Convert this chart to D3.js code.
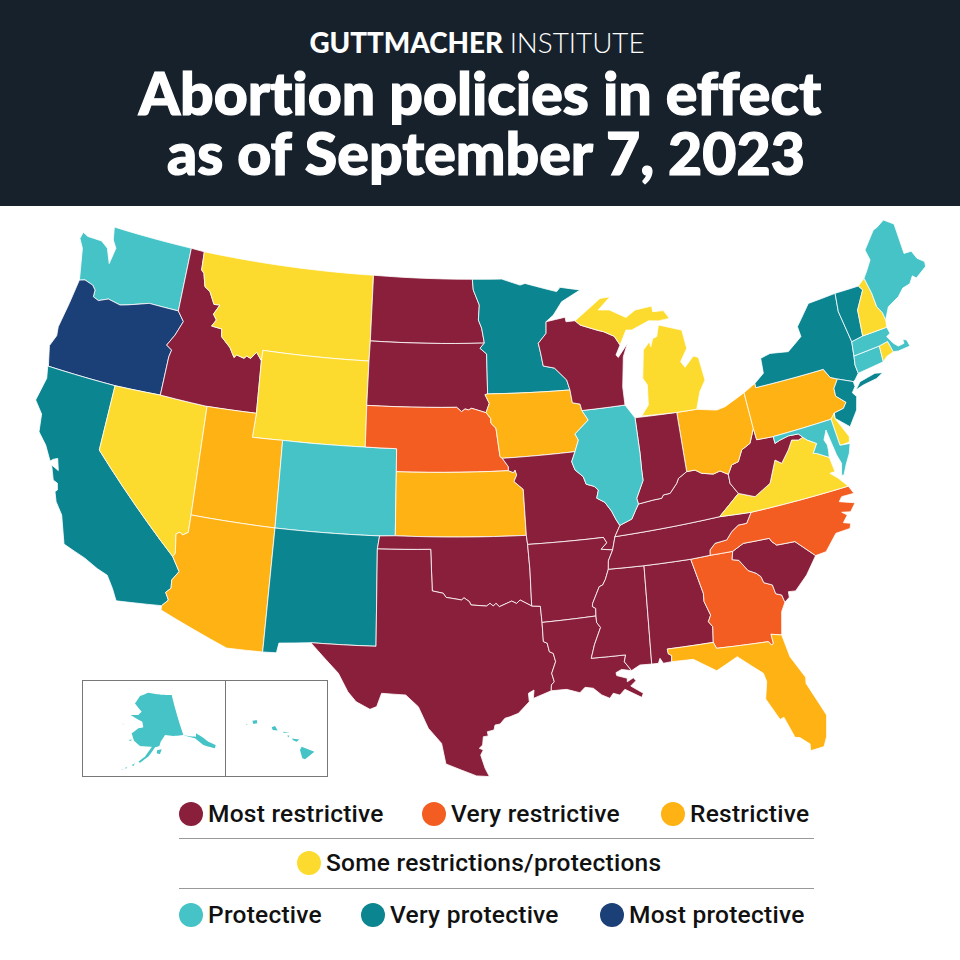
<!DOCTYPE html>
<html>
<head>
<meta charset="utf-8">
<script src="https://cdn.jsdelivr.net/npm/d3@7"></script>
<style>
  html, body { margin: 0; padding: 0; background: #fff; }
  svg { display: block; }
</style>
</head>
<body>
<svg id="map" width="960" height="960"></svg>
<script>
// policy levels, worst to best
var levels = ["Most restrictive", "Very restrictive", "Restrictive", "Some restrictions/protections", "Protective", "Very protective", "Most protective"];
var levelColors = ["#8a1f3b", "#f45d22", "#feb213", "#fddb2e", "#45c3c6", "#0b8590", "#1b3f77"];

var stateCodes = ["WA","OR","CA","NV","ID","MT","WY","UT","CO","AZ","NM","ND","SD","NE","KS","OK","TX","MN","IA","MO","AR","LA","MS","AL","GA","FL","SC","NC","TN","KY","VA","WV","OH","IN","IL","WI","MI","PA","NY","NJ","DE","MD","CT","RI","MA","VT","NH","ME"];
var stateLevels = [4,6,5,3,0,3,3,2,4,2,5,0,0,1,2,0,0,5,2,0,0,0,0,0,1,2,0,1,0,0,3,0,2,0,4,0,3,2,5,5,3,4,4,3,4,5,3,4];

// shared borders, lon/lat. "-name" below walks one backwards
var borders = {
  n49wa: [[-122.64,49.14],[-117.03,49.03]],
  waId: [[-117.03,49.03],[-117.03,46.11]],
  waCoast: [[-122.64,49.14],[-122.47,48.56],[-122.14,48.22],[-122.31,47.47],[-122.71,48.12],[-123.23,48.37],[-124.23,48.39],[-124.62,48.51],[-124.72,48.20],[-124.36,47.80],[-124.00,46.60],[-123.94,46.37]],
  waOr: [[-123.94,46.37],[-123.58,46.45],[-122.99,46.32],[-122.75,46.13],[-122.74,45.82],[-122.35,45.71],[-121.74,45.90],[-120.89,45.77],[-120.46,45.85],[-119.03,46.16],[-117.03,46.11]],
  orCoast: [[-123.94,46.37],[-124.14,45.23],[-124.39,44.06],[-124.32,43.65],[-124.58,43.12],[-124.27,42.22]],
  orId: [[-117.03,46.11],[-116.56,45.68],[-116.92,45.00],[-117.32,44.48],[-116.94,44.30],[-117.03,43.98],[-117.06,42.19]],
  orNv: [[-117.06,42.19],[-119.94,42.15]],
  orCa: [[-119.94,42.15],[-124.31,42.21]],
  n49id: [[-117.03,49.03],[-116.09,48.99]],
  idMt: [[-116.09,48.99],[-116.03,48.15],[-115.83,48.02],[-115.59,47.43],[-115.19,47.25],[-114.77,46.71],[-114.37,46.73],[-114.69,46.27],[-114.43,46.03],[-114.67,45.72],[-113.98,45.67],[-113.90,45.32],[-113.24,44.89],[-112.89,44.48],[-112.74,44.61],[-112.24,44.51],[-112.09,44.63],[-111.81,44.55],[-111.48,44.86],[-111.10,44.51]],
  idWy: [[-111.10,44.51],[-110.97,42.11]],
  idUt: [[-110.97,42.11],[-114.07,42.08]],
  idNv: [[-114.07,42.08],[-117.06,42.19]],
  n49mt: [[-116.09,48.99],[-104.12,48.87]],
  mtNd: [[-104.12,48.87],[-104.11,45.87]],
  mtSd: [[-104.11,45.87],[-104.13,44.95]],
  mtWy: [[-104.13,44.95],[-111.09,44.99]],
  mtWyW: [[-111.09,44.99],[-111.10,44.51]],
  wySd: [[-104.13,44.95],[-104.13,42.93]],
  wyNe: [[-104.13,42.93],[-104.09,41.03]],
  wyCo: [[-104.09,41.03],[-109.16,41.03]],
  wyUtS: [[-109.16,41.03],[-111.02,41.00]],
  wyUtW: [[-111.02,41.00],[-110.97,42.11]],
  utCo: [[-109.16,41.03],[-109.04,37.01]],
  utAz: [[-109.04,37.01],[-113.92,37.07]],
  nvUt: [[-114.07,42.08],[-113.92,37.07]],
  nvCa: [[-114.54,35.04],[-119.94,39.13],[-119.94,42.15]],
  nvAz: [[-113.92,37.07],[-113.91,36.26],[-114.20,36.10],[-114.38,36.20],[-114.58,36.10],[-114.43,35.21],[-114.54,35.04]],
  caCoast: [[-124.31,42.21],[-124.15,41.66],[-124.42,40.57],[-123.83,40.03],[-123.68,39.22],[-123.08,38.72],[-122.58,38.07],[-122.42,38.19],[-122.19,38.28],[-121.97,37.75],[-122.43,37.92],[-122.11,37.27],[-121.83,37.18],[-121.73,36.88],[-121.84,36.78],[-121.63,36.35],[-121.13,35.82],[-120.6,34.55],[-119.3,34.15],[-118.51,33.81],[-117.89,33.61],[-117.46,33.06],[-117.13,32.54],[-114.67,32.72]],
  caAz: [[-114.54,35.04],[-114.05,34.41],[-114.37,33.97],[-114.33,33.59],[-114.58,33.36],[-114.36,33.03],[-114.67,32.72]],
  azS: [[-114.67,32.72],[-114.66,32.52],[-110.89,31.24],[-108.97,31.26]],
  azNm: [[-108.97,31.26],[-109.04,37.01]],
  coNe: [[-104.09,41.03],[-102.17,41.01]],
  coNe2: [[-102.17,41.01],[-102.15,39.96]],
  coKs: [[-102.15,39.96],[-102.11,37.03]],
  coOk: [[-102.11,37.03],[-103.01,37.00]],
  coNm: [[-103.01,37.00],[-109.04,37.01]],
  nmOk: [[-103.01,37.00],[-103.11,36.40]],
  nmTx: [[-103.11,36.40],[-102.98,31.91],[-106.47,31.90]],
  nmS: [[-106.47,31.90],[-108.16,31.75],[-108.24,31.29],[-108.97,31.26]],
  txW: [[-106.47,31.90],[-104.90,30.57],[-104.35,29.73],[-103.90,29.29],[-103.17,28.96],[-102.83,29.10],[-102.60,29.73]],
  txS: [[-101.35,29.68],[-100.69,29.14],[-100.17,28.13],[-99.50,27.42],[-99.29,26.45],[-97.78,25.86],[-97.15,25.81],[-97.35,26.21],[-97.55,26.84],[-97.41,27.08],[-97.61,27.16],[-97.44,27.31],[-97.39,27.70],[-97.14,27.73],[-97.18,27.93],[-96.84,28.00],[-96.78,28.23],[-96.52,28.27],[-96.26,28.53],[-96.00,28.59],[-95.56,28.73],[-94.97,29.25],[-94.99,29.64],[-94.69,29.78],[-94.75,29.39],[-93.80,29.69]],
  txOk: [[-99.98,34.52],[-99.37,34.41],[-99.22,34.22],[-98.36,34.09],[-98.23,34.19],[-97.94,34.01],[-97.85,33.85],[-97.00,33.78],[-96.81,33.90],[-96.63,33.77],[-96.48,33.89],[-96.30,33.73],[-95.61,33.96],[-95.35,33.84],[-95.15,33.99],[-94.53,33.68]],
  txLa: [[-94.03,32.89],[-94.03,32.00],[-93.83,31.91],[-93.75,31.51],[-93.55,31.42],[-93.46,31.03],[-93.71,30.50],[-93.61,30.10],[-93.77,29.96],[-93.80,29.69]],
  arTx: [[-94.53,33.68],[-94.06,33.64],[-94.03,32.89]],
  sdMn: [[-96.55,45.80],[-96.85,45.57],[-96.43,45.30],[-96.47,43.48]],
  sdIa: [[-96.47,43.48],[-96.64,43.45],[-96.39,43.05],[-96.62,42.63]],
  sdNe: [[-96.62,42.63],[-97.51,42.85],[-97.72,42.78],[-97.93,42.83],[-98.15,42.71],[-98.46,42.91],[-104.13,42.93]],
  ndTop: [[-104.12,48.87],[-97.21,48.73]],
  ndMn: [[-97.21,48.73],[-97.17,48.24],[-96.79,47.54],[-96.89,46.86],[-96.69,46.48],[-96.55,45.80]],
  ndSd: [[-96.55,45.80],[-104.11,45.87]],
  neIa: [[-96.62,42.63],[-96.34,42.36],[-96.34,42.14],[-96.04,41.90],[-95.97,41.36],[-95.87,40.60],[-95.74,40.52]],
  neMo: [[-95.74,40.52],[-95.40,40.12],[-95.41,39.94]],
  neKs: [[-95.41,39.94],[-102.15,39.96]],
  ksMo: [[-95.41,39.94],[-95.12,39.84],[-95.01,39.95],[-94.93,39.72],[-95.11,39.43],[-94.59,39.05],[-94.58,36.94]],
  ksOk: [[-94.58,36.94],[-102.11,37.03]],
  okMo: [[-94.58,36.94],[-94.54,36.52]],
  okAr: [[-94.54,36.52],[-94.50,35.34],[-94.53,33.68]],
  okTxW: [[-99.98,34.52],[-100.07,36.43]],
  okPan: [[-100.07,36.43],[-103.11,36.40]],
  arMo: [[-90.20,36.53],[-94.54,36.52]],
  arLa: [[-94.03,32.89],[-91.09,32.97]],
  laCoast: [[-93.80,29.69],[-93.00,29.70],[-92.33,29.49],[-92.04,29.72],[-91.62,29.64],[-91.22,29.29],[-90.82,29.09],[-90.62,29.31],[-90.29,29.19],[-90.00,29.43],[-89.19,28.96],[-89.08,29.14],[-89.68,29.55],[-89.38,29.77],[-89.49,29.92],[-89.83,29.77],[-89.81,29.93],[-90.34,30.11],[-90.36,30.25],[-90.05,30.37],[-89.54,30.26]],
  msLa: [[-91.57,31.04],[-89.75,31.02],[-89.86,30.71],[-89.54,30.26]],
  laMs: [[-91.09,32.97],[-91.09,32.67],[-90.91,32.42],[-91.33,31.65],[-91.57,31.04]],
  arMs: [[-90.13,35.05],[-90.36,34.60],[-90.54,34.36],[-90.74,34.30],[-91.20,33.56],[-91.23,33.42],[-91.06,33.32],[-91.09,32.97]],
  moAr: [[-90.20,36.53],[-90.05,36.27],[-90.41,36.00],[-89.76,35.91]],
  arTn: [[-89.76,35.91],[-90.07,35.44],[-90.13,35.05]],
  moTn: [[-89.54,36.50],[-89.76,35.91]],
  moKy: [[-89.18,36.98],[-89.54,36.50]],
  tnMs: [[-90.13,35.05],[-88.13,35.00]],
  msAl: [[-88.13,35.00],[-88.45,30.44]],
  tnAl: [[-88.13,35.00],[-85.50,34.96]],
  tnGa: [[-85.50,34.96],[-84.40,34.98]],
  gaNc: [[-84.40,34.98],[-83.12,34.96]],
  gulfMs: [[-89.54,30.26],[-89.07,30.47],[-88.45,30.44]],
  gulfAl: [[-88.45,30.44],[-88.10,30.43],[-87.98,30.65],[-87.84,30.40],[-87.40,30.42]],
  alFl: [[-85.08,30.99],[-87.53,31.03]],
  alFlW: [[-87.53,31.03],[-87.51,30.80],[-87.35,30.70],[-87.40,30.42]],
  flCoast: [[-87.40,30.42],[-86.26,30.37],[-85.16,29.66],[-83.98,30.13],[-82.82,29.13],[-82.74,28.72],[-82.97,27.93],[-82.47,26.85],[-82.26,26.91],[-81.93,25.87],[-81.70,25.81],[-81.28,25.41],[-81.32,25.09],[-80.64,25.14],[-80.41,25.57],[-80.16,26.57],[-80.80,28.24],[-80.75,28.52],[-81.30,29.63],[-81.47,30.70]],
  gaFl: [[-85.08,30.99],[-84.96,30.69],[-82.23,30.53],[-82.10,30.34],[-81.99,30.40],[-82.01,30.84],[-81.47,30.70]],
  gaAl: [[-85.50,34.96],[-85.14,33.31],[-85.18,32.93],[-84.96,32.26],[-85.14,31.98],[-84.96,31.71],[-85.08,30.99]],
  gaCoast: [[-81.47,30.70],[-81.20,31.76],[-80.92,32.15]],
  gaSc: [[-80.92,32.15],[-81.00,32.51],[-81.30,32.63],[-81.37,33.06],[-81.80,33.25],[-81.88,33.55],[-82.10,33.75],[-82.50,33.95],[-82.89,34.50],[-83.24,34.59],[-83.12,34.96]],
  scNc: [[-83.12,34.96],[-82.45,35.22],[-80.97,35.19],[-80.88,35.02],[-80.65,34.81],[-79.62,34.77],[-78.70,33.91]],
  scCoast: [[-78.70,33.91],[-79.44,33.14],[-80.22,32.55],[-80.61,32.59],[-80.63,32.33],[-80.92,32.15]],
  ncCoast: [[-78.70,33.91],[-78.09,33.96],[-77.30,34.66],[-76.47,34.70],[-76.36,34.92],[-76.74,35.04],[-76.41,35.33],[-76.67,35.52],[-76.18,35.43],[-75.80,35.77],[-76.64,36.02],[-76.43,36.21],[-75.71,36.20],[-75.90,36.59]],
  ncTn: [[-81.65,36.54],[-82.03,36.09],[-82.51,36.09],[-82.95,35.86],[-83.32,35.53],[-84.00,35.48],[-84.35,35.22],[-84.40,34.98]],
  vaNc: [[-81.65,36.54],[-75.90,36.59]],
  vaTn: [[-83.46,36.64],[-81.65,36.54]],
  kyTn: [[-89.54,36.50],[-83.46,36.64]],
  kyVa: [[-82.13,37.51],[-83.46,36.64]],
  vaCoast: [[-75.90,36.59],[-76.32,37.06],[-76.71,37.39],[-76.40,37.40],[-76.49,38.10]],
  mnN: [[-97.21,48.73],[-95.17,48.68],[-93.92,48.35],[-93.57,48.41],[-91.44,47.91],[-91.18,48.09],[-89.83,47.87],[-91.17,47.43],[-91.82,46.86],[-92.35,46.59]],
  mnIa: [[-91.23,43.39],[-96.47,43.48]],
  wiMn: [[-92.35,46.59],[-92.42,46.06],[-92.99,45.64],[-92.89,45.18],[-92.79,44.59],[-92.08,44.45],[-91.37,43.86],[-91.23,43.39]],
  wiIa: [[-91.23,43.39],[-91.16,42.80],[-90.69,42.70],[-90.62,42.40]],
  wiTop: [[-92.35,46.59],[-91.05,46.71],[-91.02,46.50],[-90.41,46.50]],
  wiMi: [[-90.41,46.50],[-90.11,46.28],[-88.95,45.93],[-88.63,45.85],[-87.96,45.57],[-87.66,45.14]],
  wiEast: [[-87.66,45.14],[-88.02,44.71],[-87.89,44.59],[-87.17,45.16],[-87.56,44.59],[-87.88,43.23],[-87.90,42.40]],
  wiIl: [[-90.62,42.40],[-87.90,42.40]],
  upMi: [[-90.41,46.50],[-88.55,47.37],[-87.86,47.38],[-88.77,46.86],[-88.03,46.79],[-87.00,46.34],[-86.32,46.61],[-85.18,46.66],[-85.18,46.40],[-84.46,46.36],[-84.16,45.96],[-84.91,45.94],[-85.56,46.02],[-86.76,45.73],[-87.13,45.77],[-87.66,45.14]],
  lmi: [[-86.98,41.79],[-86.46,42.24],[-86.32,43.15],[-86.54,43.48],[-86.21,44.75],[-85.73,45.08],[-85.70,44.84],[-85.48,45.20],[-85.20,45.25],[-84.96,45.76],[-83.51,45.33],[-83.42,44.47],[-83.97,43.93],[-83.76,43.64],[-83.10,44.07],[-82.80,43.96],[-82.68,42.89],[-83.14,42.42],[-83.55,41.66],[-84.80,41.69]],
  ilIa: [[-90.62,42.40],[-90.29,41.94],[-91.20,41.37],[-91.03,41.08],[-91.31,40.57]],
  iaMo: [[-91.31,40.57],[-95.74,40.52]],
  moIl: [[-91.31,40.57],[-91.57,40.13],[-91.42,39.74],[-90.97,39.39],[-90.85,39.04],[-90.39,38.90],[-90.17,38.71],[-90.32,38.35],[-89.88,38.12],[-89.55,37.68],[-89.37,37.30],[-89.18,36.98]],
  ilKy: [[-89.18,36.98],[-89.06,37.02],[-88.45,37.20],[-88.17,37.57],[-87.95,37.84]],
  ilIn: [[-87.40,41.76],[-87.42,40.12],[-87.47,39.36],[-87.48,38.88],[-88.00,38.11],[-87.95,37.84]],
  ilLake: [[-87.90,42.40],[-87.40,41.76]],
  inTop: [[-87.40,41.76],[-84.80,41.69]],
  inOh: [[-84.80,41.69],[-84.85,38.95]],
  inKy: [[-87.95,37.84],[-87.06,37.92],[-86.56,37.94],[-86.43,38.08],[-86.03,38.10],[-85.55,38.50],[-85.40,38.71],[-84.85,38.95]],
  kyOh: [[-84.85,38.95],[-84.35,38.95],[-84.00,38.75],[-83.33,38.61],[-82.91,38.69],[-82.47,38.46]],
  ohWv: [[-82.47,38.46],[-82.16,38.85],[-81.74,38.93],[-81.39,39.42],[-80.82,39.63],[-80.42,40.26]],
  kyWv: [[-82.47,38.46],[-82.48,38.04],[-82.13,37.51]],
  ohLake: [[-84.80,41.69],[-83.55,41.66],[-82.35,41.44],[-81.81,41.51],[-80.47,41.94]],
  ohPa: [[-80.47,41.94],[-80.42,40.26]],
  paWvW: [[-80.42,40.26],[-80.38,39.72]],
  paWvS: [[-80.38,39.72],[-79.37,39.68]],
  nyLakes: [[-79.67,42.24],[-79.01,42.59],[-78.94,43.28],[-78.29,43.39],[-77.14,43.25],[-76.10,43.75],[-76.14,44.23],[-75.03,45.10],[-73.16,45.17]],
  nyVt: [[-73.16,45.17],[-73.33,44.33],[-73.12,42.84]],
  nyMa: [[-73.12,42.84],[-73.27,42.19]],
  nyCt: [[-73.27,42.19],[-73.38,41.78],[-73.35,41.38]],
  nyHud: [[-73.35,41.38],[-73.67,41.13],[-73.80,41.09]],
  nyNj: [[-74.68,41.42],[-73.80,41.09]],
  nyPa: [[-79.69,42.04],[-75.34,42.03],[-75.08,41.59],[-74.68,41.42]],
  paTop: [[-80.47,41.94],[-79.67,42.24],[-79.69,42.04]],
  paNj: [[-74.68,41.42],[-75.05,41.06],[-75.09,40.70],[-74.60,40.29],[-74.86,40.06],[-75.46,39.98]],
  paDe: [[-75.46,39.98],[-75.76,39.75]],
  paMd: [[-75.76,39.75],[-79.37,39.68]],
  njCoast: [[-73.80,41.09],[-73.79,40.85],[-74.06,40.62],[-73.88,40.39],[-74.13,39.81],[-74.80,39.17],[-75.52,39.74]],
  njBay: [[-75.52,39.74],[-75.46,39.98]],
  deBay: [[-75.52,39.74],[-75.02,38.75],[-75.11,38.50],[-75.69,38.49]],
  deMd: [[-75.76,39.75],[-75.69,38.49]],
  mdE: [[-75.69,38.49],[-75.09,38.44],[-75.30,38.02],[-75.68,37.55],[-75.96,37.13],[-76.09,37.16],[-75.90,37.68],[-76.04,38.11],[-76.13,38.68],[-76.22,39.26],[-76.23,39.34],[-76.51,38.93],[-76.40,38.67],[-76.42,38.43],[-76.49,38.10]],
  mdVa: [[-76.49,38.10],[-77.14,38.43],[-77.33,38.47],[-76.98,38.87],[-77.46,39.13],[-77.68,39.31]],
  mdWv: [[-77.68,39.31],[-77.88,39.51],[-78.49,39.54],[-79.03,39.45],[-79.37,39.36],[-79.37,39.68]],
  wvVa: [[-77.68,39.31],[-77.97,39.24],[-78.36,39.32],[-78.70,38.92],[-79.27,38.40],[-79.61,38.62],[-80.21,37.64],[-81.23,37.20],[-82.13,37.51]],
  ctMa: [[-73.27,42.19],[-71.57,42.25]],
  ctRi: [[-71.57,42.25],[-71.66,41.51]],
  ctCoast: [[-71.66,41.51],[-73.35,41.38]],
  riMa: [[-71.57,42.25],[-70.99,42.32],[-70.87,41.79]],
  riCoast: [[-70.87,41.79],[-71.36,41.68],[-71.66,41.51]],
  maCoast: [[-70.87,41.79],[-70.56,41.74],[-69.78,41.77],[-69.84,42.08],[-70.06,42.17],[-70.07,41.98],[-70.46,41.95],[-70.69,42.15],[-70.94,42.54],[-70.67,42.63],[-70.74,42.94]],
  maVt: [[-73.12,42.84],[-72.35,42.93]],
  maNh: [[-72.35,42.93],[-70.74,42.94]],
  vtTop: [[-73.16,45.17],[-71.56,45.14]],
  nhTop: [[-71.56,45.14],[-71.04,45.39]],
  nhVt: [[-71.56,45.14],[-71.38,44.91],[-72.12,44.12],[-72.35,42.93]],
  nhMe: [[-71.04,45.39],[-70.90,44.62],[-70.89,43.98],[-70.68,43.63],[-70.64,43.27]],
  nhCoast: [[-70.64,43.27],[-70.74,42.94]],
  meCoast: [[-71.04,45.39],[-70.71,45.66],[-70.25,46.08],[-70.34,46.58],[-69.34,47.30],[-69.07,47.35],[-68.45,47.56],[-67.88,47.21],[-67.99,45.80],[-67.49,45.77],[-67.32,45.37],[-66.94,45.10],[-67.00,44.88],[-67.84,44.55],[-68.03,44.71],[-68.37,44.42],[-68.90,44.35],[-69.36,44.06],[-70.19,43.79],[-70.64,43.27]],
  li: [[-73.80,40.69],[-73.41,40.99],[-72.38,41.14],[-71.92,41.05],[-72.38,40.89],[-73.28,40.80]]
};

// each state is a walk around its borders, same order as stateCodes
var stateWalks = [
  ["n49wa waId -waOr -waCoast"],
  ["waOr orId orNv orCa -orCoast"],
  ["-orCa -nvCa caAz -caCoast"],
  ["-orNv -idNv nvUt nvAz nvCa"],
  ["n49id idMt idWy idUt idNv -orId -waId"],
  ["n49mt mtNd mtSd mtWy mtWyW -idMt"],
  ["-mtWy wySd wyNe wyCo wyUtS wyUtW -idWy -mtWyW"],
  ["-idUt -wyUtW -wyUtS utCo utAz -nvUt"],
  ["-wyCo coNe coNe2 coKs coOk coNm -utCo"],
  ["utAz nvAz caAz azS azNm"],
  ["-coNm nmOk nmTx nmS azNm"],
  ["ndTop ndMn ndSd -mtNd"],
  ["-ndSd sdMn sdIa sdNe -wySd -mtSd"],
  ["-sdNe neIa neMo neKs -coNe2 -coNe -wyNe"],
  ["-neKs ksMo ksOk -coKs"],
  ["-ksOk okMo okAr -txOk okTxW okPan -nmOk -coOk"],
  ["-nmTx -okPan -okTxW txOk arTx txLa -txS -txW"],
  ["mnN wiMn mnIa -sdMn -ndMn"],
  ["-mnIa wiIa ilIa iaMo -neIa -sdIa"],
  ["-iaMo moIl moKy moTn -moAr arMo -okMo -ksMo -neMo"],
  ["arMo okAr arTx arLa -arMs -arTn -moAr"],
  ["arLa laMs msLa -laCoast -txLa"],
  ["tnMs msAl -gulfMs -msLa -laMs -arMs"],
  ["tnAl gaAl alFl alFlW -gulfAl -msAl"],
  ["tnGa gaNc -gaSc -gaCoast -gaFl -gaAl"],
  ["-alFl gaFl -flCoast -alFlW"],
  ["scNc scCoast gaSc"],
  ["ncTn gaNc scNc ncCoast -vaNc"],
  ["kyTn vaTn ncTn -tnGa -tnAl -tnMs -arTn -moTn"],
  ["-kyTn -moKy ilKy inKy kyOh kyWv kyVa"],
  ["vaTn vaNc vaCoast mdVa wvVa kyVa"],
  ["ohWv paWvW paWvS -mdWv wvVa -kyWv"],
  ["ohLake ohPa -ohWv -kyOh -inOh"],
  ["inTop inOh -inKy -ilIn"],
  ["wiIl ilLake ilIn -ilKy -moIl -ilIa"],
  ["wiTop wiMi wiEast -wiIl -wiIa -wiMn"],
  ["upMi -wiMi", "lmi"],
  ["paTop nyPa paNj paDe paMd -paWvS -paWvW -ohPa"],
  ["nyLakes nyVt nyMa nyCt nyHud -nyNj -nyPa", "li"],
  ["nyNj njCoast njBay -paNj"],
  ["deMd -deBay njBay paDe"],
  ["-paMd deMd mdE mdVa mdWv"],
  ["ctMa ctRi ctCoast -nyCt"],
  ["riMa riCoast -ctRi"],
  ["maVt maNh -maCoast -riMa -ctMa -nyMa"],
  ["vtTop nhVt -maVt -nyVt"],
  ["nhTop nhMe nhCoast -maNh -nhVt"],
  ["meCoast -nhMe"]
];

var alaskaOutline = [
  [[-161.99,70.96],[-146.41,70.44],[-143.13,61.14],[-147.83,61.21],[-151.71,61.55],[-153.77,60.07],[-154.36,59.10],[-156.25,58.78],[-158.82,56.67],[-161.94,55.10],[-162.64,55.27],[-160.25,56.56],[-157.61,58.90],[-162.80,58.80],[-165.78,59.78],[-167.47,61.29],[-164.76,62.66],[-162.39,63.05],[-163.27,64.27],[-169.98,65.25],[-165.93,65.61],[-164.42,66.48],[-169.13,68.01],[-167.06,69.91]],
  [[-143.13,61.14],[-138.19,59.89],[-135.42,57.97],[-131.22,56.45],[-130.50,57.10],[-132.96,58.35],[-135.10,59.86],[-137.19,60.92],[-137.57,60.20],[-140.93,60.72]],
  [[-155.21,58.20],[-153.35,58.36],[-154.07,57.31],[-155.46,57.45]],
  [[-168.33,59.68],[-166.93,59.92],[-167.07,59.58]],
  [[-173.32,62.92],[-171.51,62.76],[-172.44,62.88]],
  [[-165.02,54.31],[-163.84,54.80],[-164.32,54.15]],
  [[-167.33,53.45],[-166.49,53.62],[-166.88,53.27]],
  [[-168.42,52.92],[-167.86,53.15],[-168.27,52.87]]
];
var hawaiiOutline = [
  [[-155.97,20.12],[-154.98,19.75],[-155.71,19.19],[-155.92,19.26],[-156.10,19.88]],
  [[-156.75,20.73],[-156.15,20.66],[-156.36,20.49],[-156.62,20.59]],
  [[-157.40,21.22],[-156.88,21.18],[-157.40,21.16]],
  [[-157.09,20.94],[-156.93,20.94],[-157.01,20.81]],
  [[-158.31,21.55],[-158.05,21.65],[-157.84,21.31],[-158.23,21.35]],
  [[-159.83,22.03],[-159.49,22.08],[-159.44,21.84],[-159.75,21.79]],
  [[-160.33,21.73],[-160.20,21.76],[-160.27,21.68]]
];

var legendRow1 = [0, 1, 2];
var legendRow2 = [3];
var legendRow3 = [4, 5, 6];

var svg = d3.select("#map");

svg.append("rect").attr("width", 960).attr("height", 206).attr("fill", "#16212b");

var head = svg.append("text").attr("x", 477).attr("y", 53).attr("text-anchor", "middle")
    .attr("fill", "#fff").style("font-family", "Lato").style("font-size", "27.8px");
head.append("tspan").style("font-weight", 900).text("GUTTMACHER ");
head.append("tspan").style("font-weight", 300).text("INSTITUTE");

svg.selectAll(".title").data(["Abortion policies in effect", "as of September 7, 2023"]).enter().append("text")
    .attr("class", "title")
    .attr("x", function (d, i) { return i ? 486 : 480; })
    .attr("y", function (d, i) { return i ? 175 : 115; })
    .attr("text-anchor", "middle")
    .attr("fill", "#fff").attr("stroke", "#fff").attr("stroke-width", 1.2)
    .style("font-family", "Lato").style("font-weight", 900).style("font-size", "59px")
    .style("font-variant-ligatures", "none")
    .text(function (d) { return d; });

var projection = d3.geoConicEqualArea().rotate([99.87, 0]).center([0, 38]).parallels([36.8, 50.51]).scale(1249.22).translate([434.24, 515.12]);
var alaskaProjection = d3.geoConicEqualArea().rotate([154, 0]).center([-2, 62]).parallels([55, 65]).scale(255).translate([156, 733]);
var hawaiiProjection = d3.geoConicEqualArea().rotate([157, 0]).center([-3, 20.6]).parallels([8, 18]).scale(780).translate([250, 740]);

function walk(names) {
  var pts = [];
  names.split(" ").forEach(function (n) {
    var back = n[0] == "-";
    var b = borders[back ? n.slice(1) : n];
    pts = pts.concat(back ? b.slice().reverse() : b);
  });
  return pts;
}

// follow parallels on long straight edges
function densify(ring) {
  var pts = [];
  var closed = ring.concat([ring[0]]);
  for (var i = 0; i < ring.length; i++) {
    var a = closed[i], b = closed[i + 1];
    var n = Math.max(1, Math.ceil(Math.abs(b[0] - a[0])));
    for (var j = 0; j < n; j++) pts.push([a[0] + (b[0] - a[0]) * j / n, a[1] + (b[1] - a[1]) * j / n]);
  }
  return pts;
}

function ringsPath(rings, proj) {
  var line = d3.line().x(function (p) { return proj(p)[0]; }).y(function (p) { return proj(p)[1]; });
  return rings.map(function (r) { return line(densify(r)) + "Z"; }).join("");
}

var color = d3.scaleOrdinal().domain(d3.range(levels.length)).range(levelColors);

svg.append("g").selectAll("path").data(stateWalks).enter().append("path")
    .attr("d", function (d) { return ringsPath(d.map(walk), projection); })
    .attr("fill", function (d, i) { return color(stateLevels[i]); })
    .attr("stroke", "#fff").attr("stroke-width", 0.8).attr("stroke-linejoin", "round");

// insets
svg.append("rect").attr("x", 82.5).attr("y", 680.5).attr("width", 245).attr("height", 96)
    .attr("fill", "none").attr("stroke", "#777");
svg.append("line").attr("x1", 225.5).attr("x2", 225.5).attr("y1", 680).attr("y2", 777).attr("stroke", "#777");
svg.append("path").attr("d", ringsPath(alaskaOutline, alaskaProjection)).attr("fill", color(4));
svg.append("path").attr("d", ringsPath(hawaiiOutline, hawaiiProjection)).attr("fill", color(4));

// legend
function legendItem(level, cx, cy) {
  svg.append("circle").attr("cx", cx).attr("cy", cy).attr("r", 12).attr("fill", color(level));
  svg.append("text").attr("x", cx + 17).attr("y", cy + 8)
      .attr("fill", "#111")
      .style("font-family", "Roboto").style("font-weight", 500).style("font-size", "24.5px")
      .style("letter-spacing", "0.25px")
      .text(levels[level]);
}
[191, 434, 673].forEach(function (x, i) { legendItem(legendRow1[i], x, 814); });
legendItem(legendRow2[0], 309, 863);
[191, 373, 612].forEach(function (x, i) { legendItem(legendRow3[i], x, 915); });

[838.5, 888.5].forEach(function (y) {
  svg.append("line").attr("x1", 179).attr("x2", 814).attr("y1", y).attr("y2", y).attr("stroke", "#999");
});
</script>
</body>
</html>
